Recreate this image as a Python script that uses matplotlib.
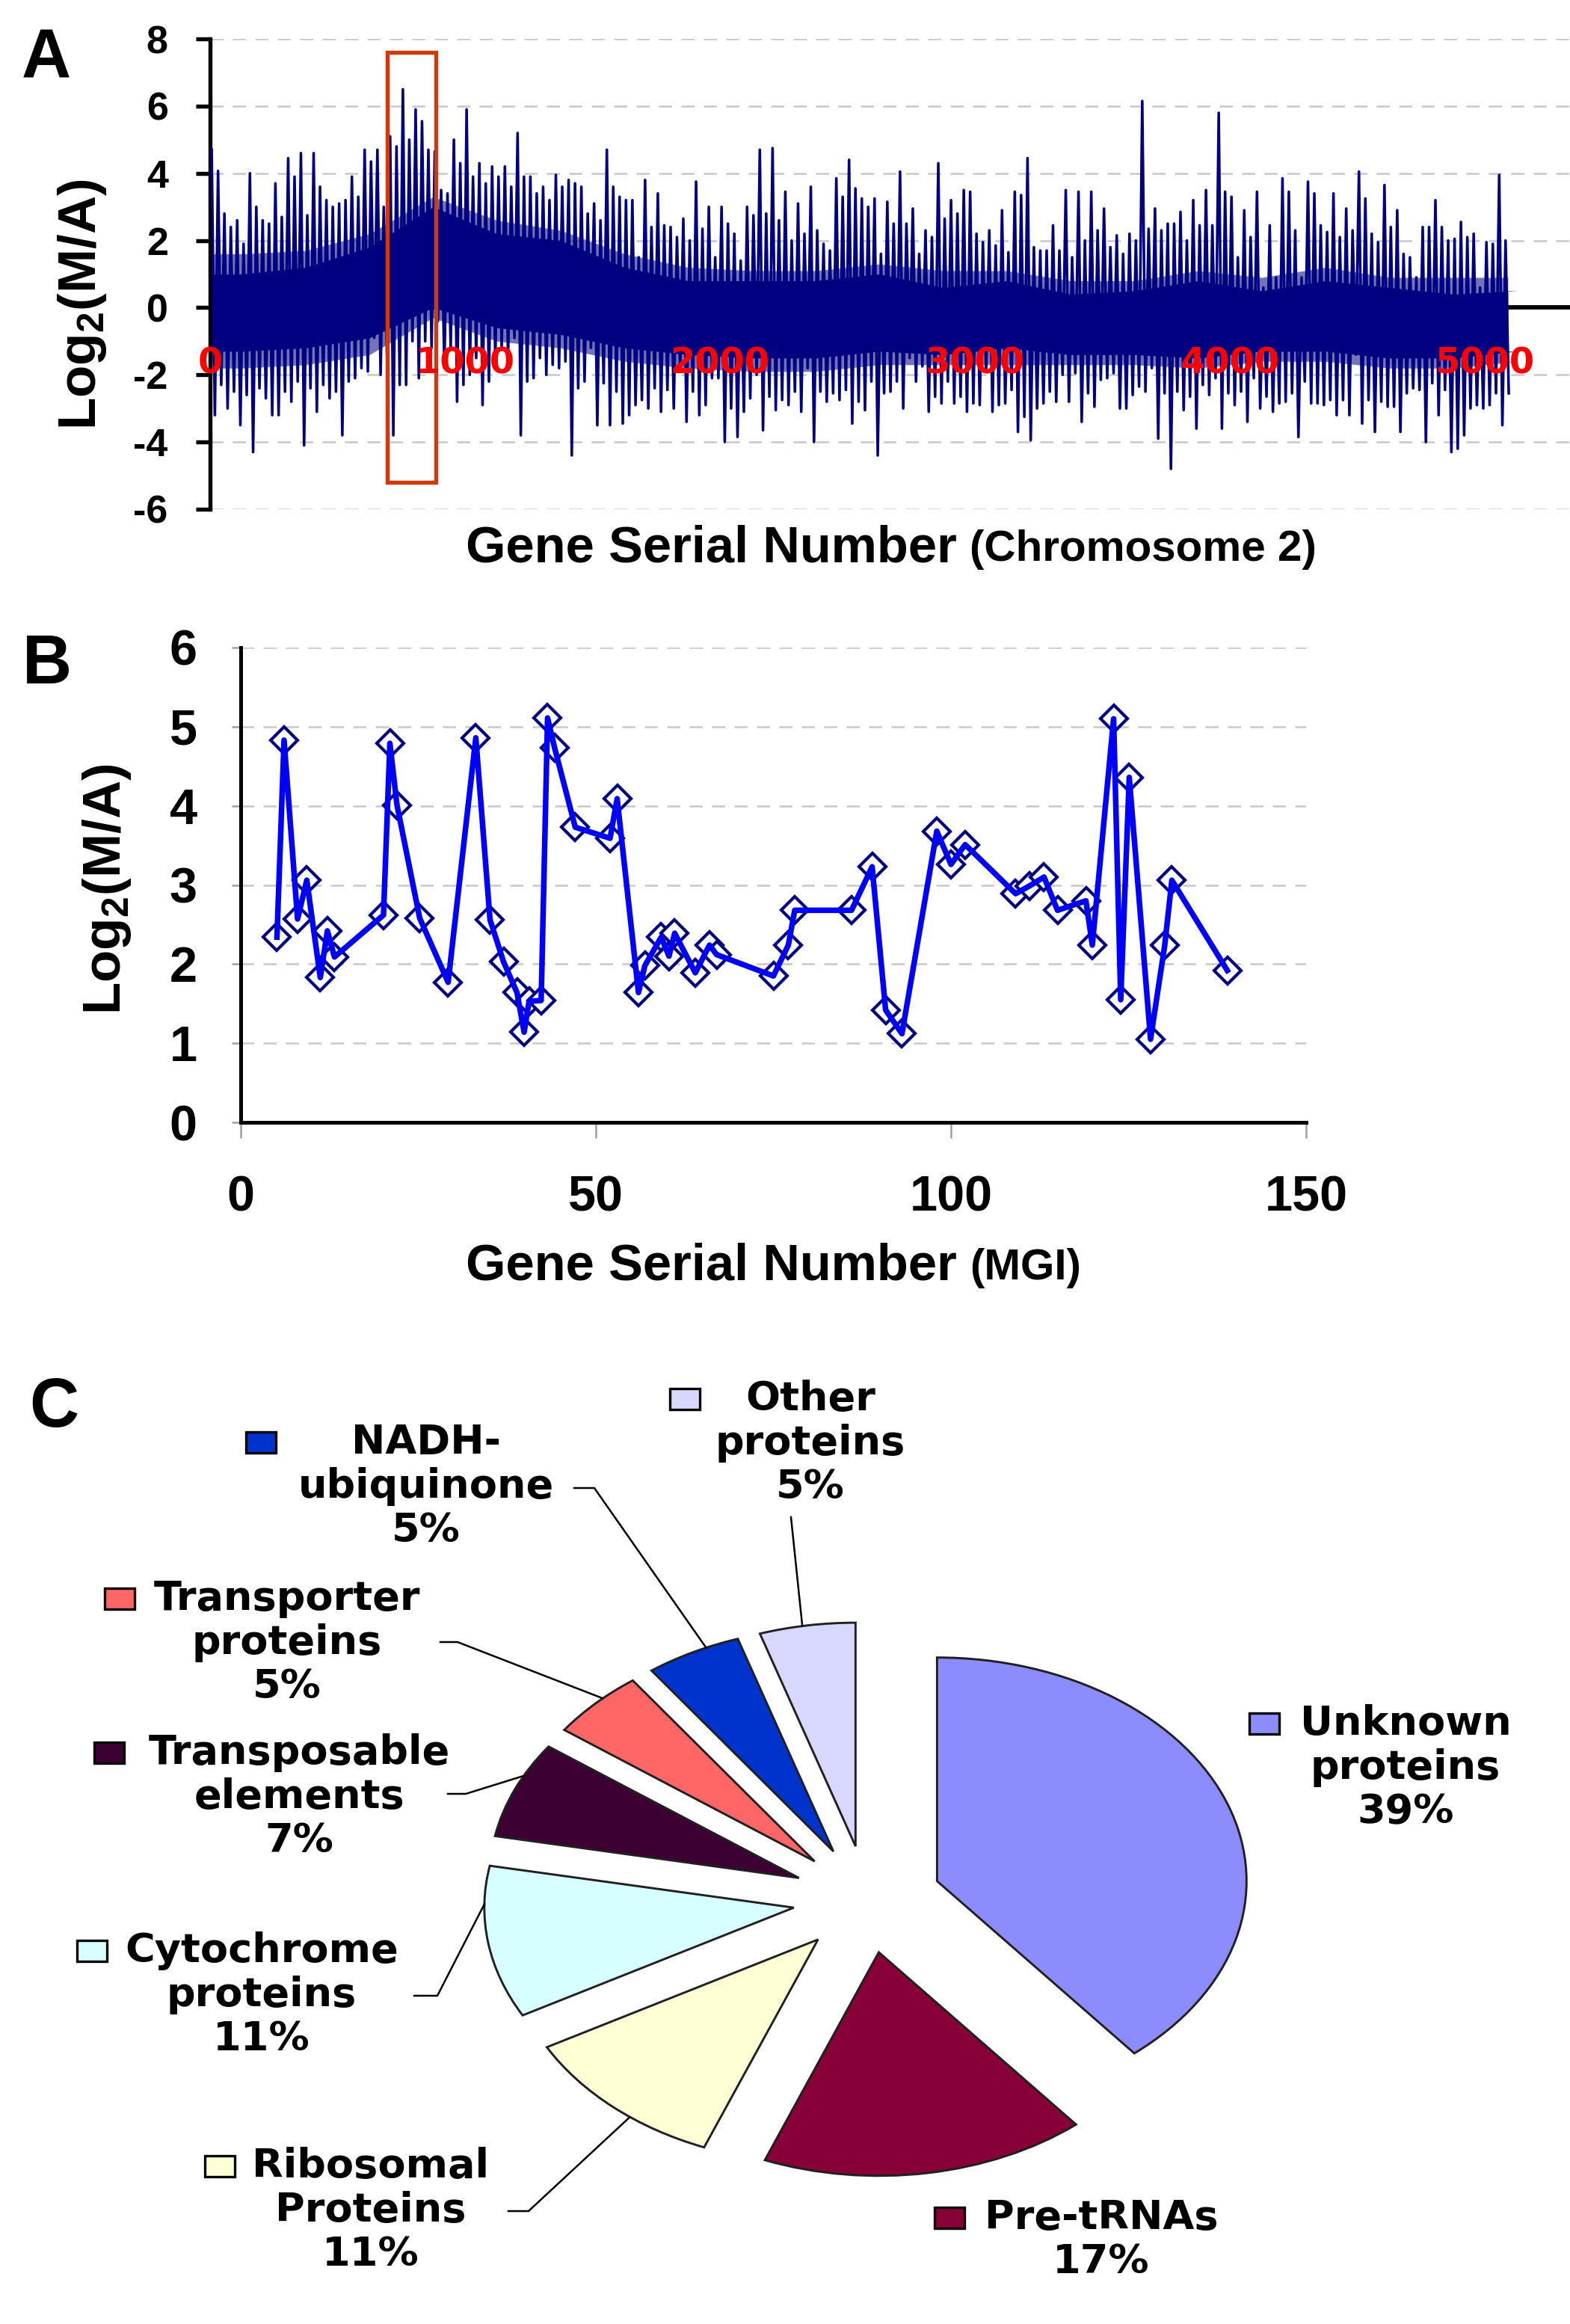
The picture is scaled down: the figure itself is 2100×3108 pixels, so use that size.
import numpy as np
import matplotlib
matplotlib.use("Agg")
import matplotlib.pyplot as plt
from matplotlib.patches import Rectangle

W, H = 2100, 3108

# ---- panel A : log2 ratios along chromosome 2 (read per 50-gene bin) ----
bin_size = 50
# highest and lowest spike in each bin
spike_hi = [4.7, 2.8, 2.6, 4.0, 2.6, 3.7, 4.45, 4.6, 4.6, 3.2,
            3.1, 3.9, 4.7, 4.7, 5.1, 6.5, 5.9, 4.7, 3.5, 5.0,
            5.9, 4.3, 4.2, 4.2, 5.2, 3.9, 3.6, 3.95, 3.8, 3.6,
            3.1, 4.7, 3.3, 3.2, 3.8, 3.4, 2.4, 2.65, 3.75, 3.0,
            3.0, 2.2, 3.0, 4.7, 4.75, 3.45, 3.1, 3.6, 1.9, 3.85,
            4.4, 3.25, 3.25, 3.15, 4.05, 2.95, 2.3, 4.3, 3.2, 3.5,
            2.2, 2.3, 2.9, 3.45, 4.45, 1.7, 2.45, 3.5, 3.45, 3.45,
            2.95, 2.15, 2.2, 6.15, 2.95, 2.5, 2.85, 3.2, 3.5, 5.8,
            3.3, 2.9, 3.45, 2.45, 3.85, 2.3, 3.75, 2.45, 3.4, 2.95,
            4.05, 2.2, 3.65, 2.9, 1.5, 2.4, 3.2, 2.0, 2.55, 2.2,
            1.95, 3.95]
spike_lo = [-3.2, -3.0, -3.5, -4.3, -2.7, -3.2, -2.8, -4.1, -3.1, -2.7,
            -3.8, -2.1, -1.9, -2.0, -3.8, -2.3, -2.1, -1.2, -1.8, -2.8,
            -2.0, -2.9, -1.6, -1.5, -3.8, -2.1, -2.0, -1.8, -4.4, -2.2,
            -3.5, -3.5, -3.45, -2.9, -3.0, -3.1, -3.0, -3.4, -3.2, -2.1,
            -4.0, -3.85, -2.7, -3.65, -3.05, -2.9, -3.1, -4.0, -2.8, -2.75,
            -3.45, -3.05, -4.4, -2.5, -3.0, -2.2, -3.1, -2.85, -2.85, -3.1,
            -2.9, -3.1, -2.85, -3.7, -3.95, -2.85, -2.8, -2.8, -3.4, -2.95,
            -2.1, -3.0, -2.6, -2.5, -3.9, -4.8, -3.05, -3.6, -2.6, -3.6,
            -2.9, -3.4, -3.0, -3.1, -2.8, -3.85, -2.85, -2.9, -3.2, -3.2,
            -3.45, -3.7, -2.95, -3.7, -2.4, -4.0, -3.2, -4.3, -3.8, -2.9,
            -2.9, -3.5]
# second highest and second lowest spike in each bin
spike_hi2 = [4.07, 2.4, 1.9, 3.0, 2.5, 2.7, 3.9, 2.75, 3.6, 3.0,
             3.2, 3.3, 4.35, 3.0, 4.8, 5.0, 5.55, 4.65, 3.4, 4.3,
             3.9, 3.7, 3.9, 3.6, 3.9, 3.4, 3.2, 3.6, 3.7, 2.8,
             2.6, 3.6, 3.2, 1.5, 2.4, 2.45, 2.1, 2.0, 2.35, 1.5,
             2.5, 1.4, 2.75, 2.8, 2.6, 2.0, 2.2, 2.3, 1.7, 3.3,
             3.55, 3.0, 1.6, 2.5, 2.5, 1.6, 2.1, 2.65, 2.8, 3.45,
             1.95, 1.85, 1.65, 3.35, 1.8, 1.7, 1.7, 1.5, 2.0, 2.3,
             1.8, 1.6, 2.0, 2.35, 2.3, 2.5, 2.0, 2.45, 2.45, 3.45,
             1.5, 2.1, 0.6, 0.9, 3.45, 0.9, 3.4, 2.25, 2.1, 2.3,
             3.25, 1.95, 2.4, 1.6, 0.9, 2.4, 2.4, 2.05, 2.1, 0.6,
             1.9, 2.0]
spike_lo2 = [-2.3, -2.5, -2.6, -2.4, -3.2, -2.5, -2.2, -2.4, -2.3, -2.5,
             -2.2, -1.8, -0.9, -1.4, -2.3, -1.0, -1.0, -0.4, -1.2, -2.3,
             -1.5, -2.2, -1.2, -0.9, -2.2, -1.5, -1.7, -1.6, -2.4, -1.2,
             -2.25, -2.5, -3.2, -2.75, -2.4, -2.45, -1.9, -2.5, -2.9, -2.1,
             -3.0, -3.1, -2.0, -2.65, -2.75, -2.5, -1.8, -2.5, -2.55, -2.45,
             -2.8, -2.2, -2.55, -2.2, -1.5, -1.75, -2.65, -2.2, -2.65, -2.85,
             -1.9, -2.9, -2.45, -3.25, -3.0, -2.5, -2.0, -1.95, -2.55, -2.15,
             -1.95, -3.0, -2.35, -1.8, -2.55, -2.5, -2.65, -2.3, -2.1, -2.55,
             -2.5, -2.1, -2.65, -2.85, -2.55, -2.2, -2.85, -2.75, -2.75, -1.4,
             -2.75, -2.8, -2.95, -2.55, -2.45, -2.25, -2.45, -4.2, -3.0, -3.0,
             -2.55, -2.55]
# solid part of the trace, per 250 genes
core_step = 250
core_hi = [1.0, 1.2, 1.8, 3.0, 2.2, 2.0, 1.2, 0.8, 0.8, 0.8, 1.0,
           0.6, 0.8, 0.4, 0.5, 0.8, 0.5, 0.8, 0.6, 0.4, 0.5]
core_lo = [-1.3, -1.2, -0.9, 0.0, -0.6, -0.8, -1.2, -1.4, -1.5, -1.5, -1.3,
           -1.4, -1.2, -1.4, -1.4, -1.5, -1.3, -1.3, -1.5, -1.5, -1.3]
# mostly covered (streaky) part of the trace, per 250 genes
dense_hi = [1.6, 1.7, 2.2, 3.3, 2.6, 2.3, 1.6, 1.2, 1.1, 1.1, 1.3,
            1.1, 1.1, 0.8, 0.8, 1.1, 0.9, 1.2, 0.9, 0.9, 0.9]
dense_lo = [-1.8, -1.7, -1.4, -0.3, -1.0, -1.2, -1.6, -1.8, -1.9, -1.9, -1.7,
            -1.7, -1.7, -1.7, -1.7, -1.8, -1.6, -1.6, -1.8, -1.8, -1.6]
last_gene = 5090
a_ticks = [0, 1000, 2000, 3000, 4000, 5000]
box_genes = (695, 886)
box_vals = (-5.2, 7.6)

# ---- panel B : MGI genes ----
mgi_gene = [5.1, 6.1, 8.0, 9.3, 11.2, 12.2, 13.2, 20.1, 21.0, 22.0, 25.2, 29.2,
            33.1, 35.1, 37.0, 38.9, 39.9, 40.6, 42.3, 43.2, 44.2, 47.1, 52.0,
            53.0, 56.0, 56.9, 59.2, 60.3, 61.1, 64.0, 66.0, 67.0, 75.0, 77.1,
            78.0, 86.0, 88.9, 90.8, 93.1, 98.0, 100.0, 102.0, 109.1, 111.1,
            113.1, 115.0, 119.0, 119.9, 122.9, 123.9, 125.1, 128.1, 130.1,
            131.1, 138.9]
mgi_log2 = [2.34, 4.83, 2.57, 3.06, 1.83, 2.42, 2.09, 2.62, 4.79, 4.01, 2.58, 1.77,
            4.86, 2.56, 2.03, 1.64, 1.14, 1.53, 1.54, 5.11, 4.73, 3.73, 3.59,
            4.09, 1.64, 1.98, 2.34, 2.10, 2.39, 1.89, 2.24, 2.12, 1.85, 2.24,
            2.68, 2.68, 3.23, 1.42, 1.12, 3.68, 3.26, 3.51, 2.89, 2.99, 3.10,
            2.68, 2.80, 2.24, 5.10, 1.55, 4.36, 1.05, 2.24, 3.06, 1.92]

# ---- panel C : gene categories ----
pie_names = [["Unknown", "proteins"], ["Pre-tRNAs"], ["Ribosomal", "Proteins"],
             ["Cytochrome", "proteins"], ["Transposable", "elements"],
             ["Transporter", "proteins"], ["NADH-", "ubiquinone"], ["Other", "proteins"]]
pie_pct = [39, 17, 11, 11, 7, 5, 5, 5]
pie_colors = ["#8C8CFF", "#870037", "#FFFFD6", "#D8FFFF", "#3D0033",
              "#FF6666", "#0033CC", "#D8D8FF"]


def fx(px):
    return px / W


def fy(py):
    return 1 - py / H


def band(vals):
    # one value per stretch, drawn at its middle and held to both ends
    return np.concatenate([[vals[0]], vals, [vals[-1]]])


plt.rcParams["font.family"] = ["Liberation Sans", "DejaVu Sans"]
plt.rcParams["font.weight"] = "bold"
plt.rcParams["axes.unicode_minus"] = False
plt.rcParams["mathtext.fontset"] = "custom"
plt.rcParams["mathtext.rm"] = "Liberation Sans:bold"
plt.rcParams["mathtext.it"] = "Liberation Sans:bold"

fig = plt.figure(figsize=(7, 10.36), dpi=300)
navy = "#000080"

# ================= A =================
axA = fig.add_axes([fx(281), fy(681), 1 - fx(281), (681 - 52) / H])
axA.set_xlim(0, 5334)
axA.set_ylim(-6, 8)
for s in ["top", "right", "bottom"]:
    axA.spines[s].set_visible(False)
axA.spines["left"].set_linewidth(1.3)
axA.set_xticks([])
axA.set_yticks(range(-6, 9, 2))
axA.tick_params(axis="y", direction="out", length=4.5, width=1.3, pad=9, labelsize=12.5)
axA.yaxis.grid(True, linestyle=(0, (7, 5)), color="#C8C8C8", lw=0.6)
axA.set_axisbelow(True)
axA.axhline(0, color="black", lw=1.4, zorder=1)

core_x = np.concatenate([[0], np.arange(len(core_hi)) * core_step + core_step / 2, [last_gene]])
axA.fill_between(core_x, band(dense_lo), band(dense_hi), color=navy, alpha=0.55, lw=0, zorder=2)
axA.fill_between(core_x, band(core_lo), band(core_hi), color=navy, lw=0, zorder=2)
starts = np.arange(len(spike_hi)) * bin_size
zx = np.column_stack([starts + bin_size * f for f in (0.125, 0.375, 0.625, 0.875)]).ravel()
zy = np.column_stack([spike_hi, spike_lo, spike_hi2, spike_lo2]).ravel()
axA.plot(zx, zy, color=navy, lw=0.85, zorder=3)

axA.add_patch(Rectangle((box_genes[0], box_vals[0]), box_genes[1] - box_genes[0],
                        box_vals[1] - box_vals[0], fill=False, ec="#D03A0A", lw=1.3, zorder=5))
for t in a_ticks:
    axA.text(t, -1.65, str(t), color="red", ha="center", va="center", fontsize=11.5,
             family="DejaVu Sans", weight="bold", zorder=6, clip_on=False)

fig.text(fx(110), fy(407), r"Log$_2$(M/A)", rotation=90, ha="center", va="center", fontsize=17)
fig.text(fx(1280), fy(733), "Gene Serial Number", ha="right", va="center", fontsize=16.5)
fig.text(fx(1297), fy(735), "(Chromosome 2)", ha="left", va="center", fontsize=14)
fig.text(fx(62), fy(80), "A", ha="center", va="center", fontsize=22)

# ================= B =================
axB = fig.add_axes([fx(322), fy(1501), (1747 - 322) / W, (1501 - 866) / H])
axB.set_xlim(0, 150)
axB.set_ylim(0, 6)
for s in ["top", "right"]:
    axB.spines[s].set_visible(False)
axB.spines["left"].set_linewidth(1.2)
axB.spines["bottom"].set_linewidth(1.2)
axB.set_xticks([0, 50, 100, 150])
axB.set_yticks(range(0, 7))
axB.tick_params(axis="x", direction="out", length=5, width=0.6, color="#A0A0A0", pad=12, labelsize=16)
axB.tick_params(axis="y", direction="out", length=3, width=0.6, color="#A0A0A0", pad=11, labelsize=16)
axB.yaxis.grid(True, linestyle=(0, (7, 5)), color="#C8C8C8", lw=0.6)
axB.set_axisbelow(True)
axB.plot(mgi_gene, mgi_log2, ls="none", marker="D", ms=6, mfc="white", mec=navy, mew=1.0, zorder=3)
axB.plot(mgi_gene, mgi_log2, color="#0000FF", lw=1.8, zorder=4, solid_joinstyle="round")

fig.text(fx(143), fy(1189), r"Log$_2$(M/A)", rotation=90, ha="center", va="center", fontsize=17)
fig.text(fx(1280), fy(1694), "Gene Serial Number", ha="right", va="center", fontsize=16.5)
fig.text(fx(1297), fy(1696), "(MGI)", ha="left", va="center", fontsize=14)
fig.text(fx(63), fy(890), "B", ha="center", va="center", fontsize=22)

# ================= C =================
axC = fig.add_axes([0, 0, 1, (H - 1780) / H])
wedges, _ = axC.pie(pie_pct, colors=pie_colors, startangle=90, counterclock=False,
                    explode=[0.24] * len(pie_pct),
                    wedgeprops=dict(edgecolor="#202020", linewidth=0.7))
axC.set_aspect("auto")
axC.set_xlim(-2.802, 2.271)
axC.set_ylim(-1.900, 2.542)
fig.text(fx(72), fy(1884), "C", ha="center", va="center", fontsize=22)

# label layout: text centre x, first line y, key square left x (pixels)
lab_cx = [1880, 1473, 496, 350, 400, 384, 570, 1084]
lab_y0 = [2305, 2966, 2897, 2609, 2344, 2138, 1929, 1871]
key_x = [1671, 1250, 274, 103, 126, 140, 329, 896]
# leader line start (pixels), None where Excel drew none; angle fraction inside the wedge
lead = [None, None, [(680, 2957), (707, 2957)], [(554, 2669), (585, 2669)],
        [(599, 2399), (623, 2399)], [(589, 2196), (612, 2196)],
        [(768, 1990), (795, 1990)], [(1058, 2029)]]
lead_frac = [0.5, 0.5, 0.6, 0.25, 0.35, 0.4, 0.35, 0.55]
step = 59
inv = axC.transData.inverted()
for i, w in enumerate(wedges):
    lines = pie_names[i] + ["%d%%" % pie_pct[i]]
    for k, ln in enumerate(lines):
        fig.text(fx(lab_cx[i]), fy(lab_y0[i] + k * step), ln, ha="center", va="center",
                 fontsize=13, family="DejaVu Sans", weight="bold")
    fig.patches.append(Rectangle((fx(key_x[i]), fy(lab_y0[i] + 14)), 40 / W, 28 / H,
                                 transform=fig.transFigure, facecolor=pie_colors[i],
                                 edgecolor="black", lw=0.8))
    if lead[i] is not None:
        ang = np.deg2rad(w.theta1 + (w.theta2 - w.theta1) * lead_frac[i])
        px = w.center[0] + w.r * np.cos(ang)
        py = w.center[1] + w.r * np.sin(ang)
        pts = [inv.transform((x, H - y)) for x, y in lead[i]]
        xs = [p[0] for p in pts] + [px]
        ys = [p[1] for p in pts] + [py]
        axC.plot(xs, ys, color="black", lw=0.6, clip_on=False)

fig.savefig("out.png", dpi=300)
